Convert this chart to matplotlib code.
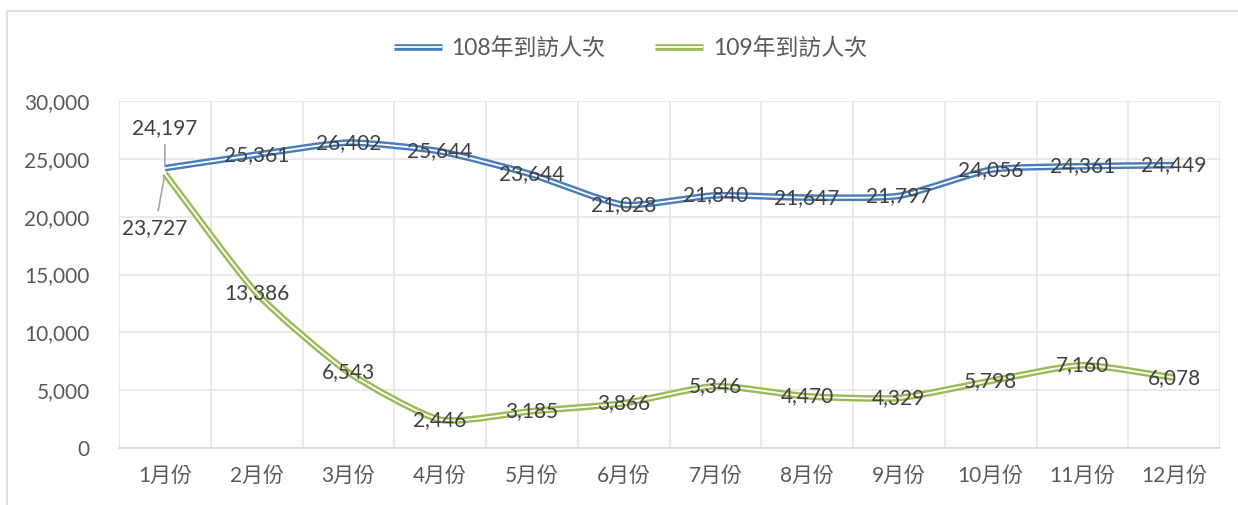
import matplotlib
matplotlib.use("Agg")
import matplotlib.pyplot as plt
from matplotlib.path import Path
from matplotlib.patches import PathPatch, Rectangle
from matplotlib.lines import Line2D
from matplotlib.ticker import FuncFormatter, MultipleLocator
import numpy as np

plt.rcParams['font.family'] = ['Lato', 'Noto Sans CJK TC', 'DejaVu Sans']

meses = ["1月份", "2月份", "3月份", "4月份", "5月份", "6月份",
         "7月份", "8月份", "9月份", "10月份", "11月份", "12月份"]
visitas_108 = [24197, 25361, 26402, 25644, 23644, 21028,
               21840, 21647, 21797, 24056, 24361, 24449]
visitas_109 = [23727, 13386, 6543, 2446, 3185, 3866,
               5346, 4470, 4329, 5798, 7160, 6078]
series_nomes = ["108年到訪人次", "109年到訪人次"]
cores = ["#4A7EBB", "#9BBB59"]


def caminho_suave(xs, ys, k=1 / 10.0):
    # curva suavizada (estilo Excel) com segmentos de Bezier cubicos
    pts = np.column_stack([xs, ys]).astype(float)
    n = len(pts)
    verts = [pts[0]]
    codes = [Path.MOVETO]
    for i in range(n - 1):
        p_ant = pts[i - 1] if i > 0 else pts[i]
        p_prox = pts[i + 2] if i + 2 < n else pts[i + 1]
        c1 = pts[i] + (pts[i + 1] - p_ant) * k
        c2 = pts[i + 1] - (p_prox - pts[i]) * k
        verts += [c1, c2, pts[i + 1]]
        codes += [Path.CURVE4] * 3
    return Path(verts, codes)


fig = plt.figure(figsize=(12.38, 5.05), dpi=100)
ax = fig.add_axes([119 / 1238, 1 - 448 / 505, (1220 - 119) / 1238, (448 - 101) / 505])

# moldura do grafico
fig.patches.append(Rectangle((7 / 1238, -0.2), 1.2, 1.2 - 11 / 505,
                             transform=fig.transFigure, fill=False,
                             edgecolor="#D9D9D9", linewidth=1.2, zorder=0))

x = np.arange(len(meses))
for ys, cor in zip([visitas_108, visitas_109], cores):
    caminho = caminho_suave(x, ys)
    ax.add_patch(PathPatch(caminho, facecolor="none", edgecolor=cor, linewidth=4.8,
                           capstyle="butt", joinstyle="round", zorder=3))
    ax.add_patch(PathPatch(caminho, facecolor="none", edgecolor="white", linewidth=1.3,
                           capstyle="butt", joinstyle="round", zorder=4))

# rotulos de dados
cor_texto = "#404040"
tam = 15
for i, v in enumerate(visitas_108):
    if i == 0:
        ax.annotate(f"{v:,}", xy=(x[i], v), xytext=(0, 29), textcoords="offset points",
                    ha="center", va="center", fontsize=tam, color=cor_texto, zorder=5,
                    arrowprops=dict(arrowstyle="-", color="#A6A6A6", lw=1.2,
                                    shrinkA=3, shrinkB=2))
    else:
        ax.text(x[i], v, f"{v:,}", ha="center", va="center", fontsize=tam,
                color=cor_texto, zorder=5)
for i, v in enumerate(visitas_109):
    if i == 0:
        ax.annotate(f"{v:,}", xy=(x[i], v), xytext=(-7, -39), textcoords="offset points",
                    ha="center", va="center", fontsize=tam, color=cor_texto, zorder=5,
                    arrowprops=dict(arrowstyle="-", color="#A6A6A6", lw=1.2,
                                    shrinkA=3, shrinkB=2))
    else:
        ax.text(x[i], v, f"{v:,}", ha="center", va="center", fontsize=tam,
                color=cor_texto, zorder=5)

ax.set_xlim(-0.5, len(meses) - 0.5)
ax.set_ylim(0, 30000)
ax.yaxis.set_major_locator(MultipleLocator(5000))
ax.yaxis.set_major_formatter(FuncFormatter(lambda v, p: f"{int(v):,}"))
ax.set_xticks(x)
ax.set_xticklabels(meses)
ax.set_xticks(np.arange(-0.5, len(meses), 1), minor=True)
ax.tick_params(axis="both", which="both", length=0, labelsize=tam, colors="#595959")
ax.tick_params(axis="y", pad=21)
ax.tick_params(axis="x", pad=13)

ax.grid(True, which="major", axis="y", color="#E6E6E6", linewidth=1.2)
ax.grid(True, which="minor", axis="x", color="#E6E6E6", linewidth=1.2)
ax.set_axisbelow(True)
for lado in ["top", "right", "left"]:
    ax.spines[lado].set_visible(False)
ax.spines["bottom"].set_color("#D9D9D9")
ax.spines["bottom"].set_linewidth(1.2)

# legenda com linha dupla
handles = []
for cor in cores:
    handles.append((Line2D([], [], color=cor, lw=4.8, solid_capstyle="butt"),
                    Line2D([], [], color="white", lw=1.3, solid_capstyle="butt")))
fig.legend(handles, series_nomes, loc="center", bbox_to_anchor=(0.509, 0.905),
           ncol=2, frameon=False, fontsize=16.5, labelcolor="#595959",
           handlelength=2.1, columnspacing=2.2, handletextpad=0.4)

plt.savefig("out.png", dpi=100)
